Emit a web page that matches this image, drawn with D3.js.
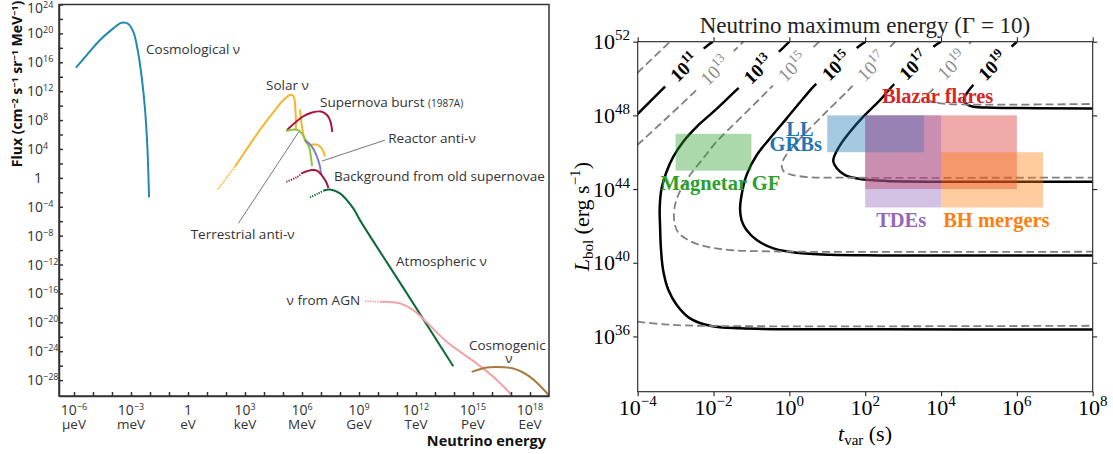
<!DOCTYPE html>
<html>
<head>
<meta charset="UTF-8">
<style>
  body { margin: 0; background: white; }
  .sans { font-family: "Open Sans", sans-serif; fill: #333; }
  .serif { font-family: "Liberation Serif", serif; }
</style>
</head>
<body>
<svg width="1113" height="454"></svg>
<script src="https://d3js.org/d3.v7.min.js"></script>
<script>

// ---------- left panel data: [log10 E (eV), log10 flux] ----------
const cosmological = [[-5.9,15.25],[-5.33,17.0],[-4.63,19.08],[-3.93,20.7],[-3.49,21.48],[-3.14,21.3],[-2.88,20.23],[-2.65,17.7],[-2.44,14.0],[-2.26,9.39],[-2.14,4.3],[-2.05,-2.7]];
const solarDots = [[1.58,-1.55],[2.47,1.53]];
const solarPP = [[2.47,1.53],[3.89,7.03],[4.58,9.39],[5.05,10.84],[5.37,11.47],[5.53,11.4],[5.61,10.77],[5.66,9.11],[5.68,7.45],[5.66,6.62]];
const solarB8 = [[5.89,9.46],[5.97,7.59],[6.08,5.93],[6.21,4.89],[6.42,4.61],[6.79,4.6],[7.03,4.13],[7.16,3.43],[7.21,2.95]];
const terrestrial = [[5.16,6.48],[5.56,6.69],[5.84,6.55],[6.03,6.0],[6.21,5.09],[6.39,4.13],[6.47,2.88],[6.53,1.63]];
const reactor = [[6.16,5.23],[6.53,4.3],[6.79,2.92],[6.95,1.53],[7.0,0.39]];
const snBurst = [[5.21,6.62],[6.03,8.46],[6.53,9.04],[7.0,9.18],[7.34,8.63],[7.5,7.77],[7.59,6.38]];
const oldSNDots = [[5.18,-0.54],[5.74,0.11],[6.0,0.66]];
const oldSN = [[6.0,0.66],[6.53,1.08],[6.79,1.01],[7.05,0.32],[7.26,-0.51],[7.39,-1.41]];
const atmDots = [[6.42,-2.7],[6.86,-2.15],[7.12,-1.79]];
const atmospheric = [[7.12,-1.79],[7.47,-1.6],[8.0,-2.15],[8.7,-4.23],[9.05,-5.85],[11.51,-15.96],[13.96,-26.07]];
const agnDots = [[9.32,-17.07],[10.1,-17.16]];
const agn = [[10.1,-17.16],[10.46,-17.16],[11.16,-17.38],[11.86,-18.31],[12.56,-19.98],[13.62,-22.7],[15.19,-25.7],[16.07,-27.55],[17.04,-30.09]];
const cosmogenic = [[14.93,-26.86],[15.72,-26.25],[16.16,-26.17],[17.12,-26.39],[18.0,-27.55],[19.0,-30.1]];
const leaderTerr = [[2.65,-6.3],[5.83,6.38]];
const leaderReac = [[7.05,2.32],[10.37,5.23]];

const energyTicks = [-6, -3, 0, 3, 6, 9, 12, 15, 18];
const energyUnits = ["μeV", "meV", "eV", "keV", "MeV", "GeV", "TeV", "PeV", "EeV"];
const fluxTicks = [24, 20, 16, 12, 8, 4, 0, -4, -8, -12, -16, -20, -24, -28];

const leftLabels = [
  ["Cosmological ν", -2.21, 17.14],
  ["Solar ν", 4.11, 12.16],
  ["Reactor anti-ν", 10.54, 4.82],
  ["Background from old supernovae", 7.68, -0.45],
  ["Terrestrial anti-ν", 0.14, -8.48],
  ["Atmospheric ν", 10.95, -12.22],
  ["ν from AGN", 5.19, -17.62],
  ["Cosmogenic", 14.79, -23.85]
];

// ---------- right panel data: [log10 t_var (s), log10 L_bol] ----------
const solid11 = [[-4.01,48.06],[-3.28,49.56],[-2.25,51.64],[-2.02,52.0]];
const solid13 = [[0.0,52.0],[-0.2,51.6],[-1.3,49.56],[-2.0,48.2],[-2.44,47.39],[-2.8,46.57],[-3.06,45.76],[-3.24,44.94],[-3.37,44.04],[-3.42,42.96],[-3.41,42.0],[-3.39,40.87],[-3.33,39.61],[-3.19,38.52],[-2.97,37.71],[-2.62,36.98],[-2.09,36.58],[-1.3,36.44],[2.39,36.39],[8.0,36.38]];
const solid15 = [[2.01,52.0],[1.82,51.73],[0.68,49.65],[0.37,48.93],[-0.07,47.84],[-0.51,46.76],[-0.86,45.85],[-1.13,44.76],[-1.26,43.68],[-1.3,42.9],[-1.26,42.3],[-1.13,41.78],[-0.86,41.23],[-0.42,40.78],[0.19,40.54],[1.07,40.43],[2.39,40.4],[8.0,40.4]];
const solid17 = [[4.0,52.0],[3.8,51.73],[2.76,49.69],[2.39,48.83],[1.95,47.93],[1.6,47.11],[1.34,46.39],[1.18,45.76],[1.16,45.49],[1.25,45.13],[1.47,44.76],[1.86,44.55],[2.57,44.44],[4.32,44.4],[8.0,44.4]];
const solid19 = [[6.0,52.0],[5.86,51.73],[4.85,49.65],[4.68,49.2],[4.6,48.83],[4.68,48.6],[4.85,48.47],[5.38,48.42],[8.0,48.38]];
const gray11 = [[-4.01,50.3],[-3.15,52.0]];
const gray13 = [[-4.01,46.39],[-2.36,49.56],[-1.57,51.28],[-1.21,52.0]];
const gray13low = [[-4.01,36.8],[-3.32,36.66],[-2.44,36.58],[8.0,36.58]];
const gray15 = [[0.79,52.0],[-0.42,49.65],[-0.86,48.74],[-1.39,47.66],[-1.92,46.57],[-2.27,45.67],[-2.62,44.76],[-2.89,43.86],[-3.02,43.08],[-3.04,42.32],[-2.94,41.67],[-2.62,41.18],[-2.18,40.87],[-1.57,40.69],[-0.25,40.61],[8.0,40.6]];
const gray17 = [[2.79,52.0],[1.69,49.65],[1.34,48.93],[0.98,48.2],[0.85,47.93],[0.37,46.93],[0.02,46.12],[-0.16,45.58],[-0.2,45.21],[-0.14,44.94],[0.1,44.76],[0.54,44.64],[1.07,44.62],[8.0,44.62]];
const gray19 = [[4.79,52.0],[3.89,49.65],[3.62,49.0],[3.68,48.83],[3.8,48.72],[4.15,48.62],[8.0,48.62]];

const boxNames = ["Magnetar GF", "Blazar flares", "LL GRBs", "TDEs", "BH mergers"];
const boxT = [[-3, -1], [2, 6], [1, 3.55], [2, 4], [4, 6.69]];
const boxL = [[45, 47], [44, 48], [46, 48], [43, 48], [43, 46]];
const boxColors = ["#2ca02c", "#d62728", "#1f77b4", "#9467bd", "#ff7f0e"];

const tTicks = [-4, -2, 0, 2, 4, 6, 8];
const lTicks = [36, 40, 44, 48, 52];

const svg = d3.select("svg");
const defs = svg.append("defs");
const line = d3.line().curve(d3.curveCatmullRom.alpha(0.5));

// ================= left panel =================
const xL = d3.scaleLog().domain([10 ** -6.79, 1e19]).range([59, 549]);
const yL = d3.scaleLog().domain([10 ** -30.2, 1e24]).range([396, 4.5]);
const pL = d => [xL(10 ** d[0]), yL(10 ** d[1])];
const left = svg.append("g");

const spectra = [
  [cosmological, "#1f8aad", false],
  [solarDots, "#f6b52c", true],
  [solarPP, "#f6b52c", false],
  [solarB8, "#f6b52c", false],
  [snBurst, "#a8143f", false],
  [terrestrial, "#8cc63f", false],
  [reactor, "#7b80c4", false],
  [oldSNDots, "#a8143f", true],
  [oldSN, "#a8143f", false],
  [atmDots, "#0f6b37", true],
  [atmospheric, "#0f6b37", false],
  [agnDots, "#f2a1a7", true],
  [agn, "#f2a1a7", false],
  [cosmogenic, "#a87b3e", false]
];

spectra.forEach(s => {
  left.append("path")
    .attr("d", line(s[0].map(pL)))
    .attr("fill", "none")
    .attr("stroke", s[1])
    .attr("stroke-width", 2)
    .attr("stroke-dasharray", s[2] ? "1.2,1.2" : null);
});

[leaderTerr, leaderReac].forEach(l => {
  left.append("path")
    .attr("d", d3.line()(l.map(pL)))
    .attr("stroke", "#555")
    .attr("stroke-width", 0.8);
});

// axes (ticks point inwards)
left.append("g")
  .attr("transform", `translate(0,${yL.range()[0]})`)
  .call(d3.axisBottom(xL).tickValues(d3.range(-6, 19).map(e => 10 ** e)).tickSize(-4).tickSizeOuter(0).tickFormat(""));
left.append("g")
  .attr("transform", `translate(${xL.range()[0]},0)`)
  .call(d3.axisLeft(yL).tickValues(d3.range(-28, 25, 2).map(e => 10 ** e)).tickSize(-4).tickSizeOuter(0).tickFormat(""));
left.selectAll("g.tick line, path.domain").attr("stroke", "#333").attr("stroke-width", 1.5);

left.append("rect")
  .attr("x", xL.range()[0]).attr("y", yL.range()[1])
  .attr("width", xL.range()[1] - xL.range()[0])
  .attr("height", yL.range()[0] - yL.range()[1])
  .attr("fill", "none").attr("stroke", "#333").attr("stroke-width", 1.5);

energyTicks.forEach((e, i) => {
  const x = xL(10 ** e);
  const t = left.append("text").attr("class", "sans").attr("x", x).attr("y", 415)
    .attr("text-anchor", "middle").attr("font-size", 14);
  if (e === 0) t.text("1");
  else {
    t.append("tspan").text("10");
    t.append("tspan").attr("dy", -5).attr("font-size", 9).text(e < 0 ? "−" + (-e) : e);
  }
  left.append("text").attr("class", "sans").attr("x", x).attr("y", 429)
    .attr("text-anchor", "middle").attr("font-size", 13.5).text(energyUnits[i]);
});

fluxTicks.forEach(e => {
  const y = yL(10 ** e) + 5;
  if (e === 0) {
    left.append("text").attr("class", "sans").attr("x", 38).attr("y", y)
      .attr("text-anchor", "middle").attr("font-size", 14).text("1");
  } else {
    const t = left.append("text").attr("class", "sans").attr("x", 27)
      .attr("y", e === 24 ? 13 : y).attr("font-size", 14);
    t.append("tspan").text("10");
    t.append("tspan").attr("dy", -5).attr("font-size", 9).text(e < 0 ? "−" + (-e) : e);
  }
});

leftLabels.forEach(l => {
  const [x, y] = pL([l[1], l[2]]);
  left.append("text").attr("class", "sans").attr("x", x).attr("y", y)
    .attr("font-size", 13.5).text(l[0]);
});
{
  const [x, y] = pL([6.95, 9.8]);
  const t = left.append("text").attr("class", "sans").attr("x", x).attr("y", y).attr("font-size", 13.5);
  t.append("tspan").text("Supernova burst ");
  t.append("tspan").attr("font-size", 10).text("(1987A)");
  const [nx, ny] = pL([16.89, -25.6]);
  left.append("text").attr("class", "sans").attr("x", nx).attr("y", ny)
    .attr("text-anchor", "middle").attr("font-size", 13.5).text("ν");
}

const ylab = left.append("text").attr("class", "sans")
  .attr("transform", "translate(22,84) rotate(-90)")
  .attr("text-anchor", "middle").attr("font-size", 14).attr("font-weight", "bold").style("fill", "#111");
[["Flux (cm", null], ["−2", "sup"], [" s", null], ["−1", "sup"], [" sr", null], ["−1", "sup"], [" MeV", null], ["−1", "sup"], [")", null]]
  .forEach(p => {
    ylab.append("tspan").text(p[0])
      .attr("font-size", p[1] ? 9 : null)
      .attr("baseline-shift", p[1] ? "45%" : null);
  });

left.append("text").attr("class", "sans").attr("x", 546).attr("y", 446)
  .attr("text-anchor", "end").attr("font-size", 14.5).attr("font-weight", "bold")
  .style("fill", "#111").text("Neutrino energy");

// ================= right panel =================
const xR = d3.scaleLog().domain([1e-4, 1e8]).range([637.7, 1092.7]);
const yR = d3.scaleLog().domain([1e33, 1e52]).range([391.7, 41.7]);
const pR = d => [xR(10 ** d[0]), yR(10 ** d[1])];
const right = svg.append("g").attr("class", "serif");

defs.append("clipPath").attr("id", "clipR").append("rect")
  .attr("x", 637.7).attr("y", 41.7).attr("width", 455).attr("height", 350);

const ang = Math.atan2(yR(1e50) - yR(1e48), xR(10) - xR(1)) * 180 / Math.PI;

const contours = [
  [solid11, true, 11, [-2.77, 50.6]],
  [solid13, true, 13, [-0.82, 50.5]],
  [solid15, true, 15, [1.24, 50.69]],
  [solid17, true, 17, [3.28, 50.71]],
  [solid19, true, 19, [5.36, 50.69]],
  [gray11, false, 11, null],
  [gray13, false, 13, [-1.96, 50.42]],
  [gray13low, false, 13, null],
  [gray15, false, 15, [0.08, 50.62]],
  [gray17, false, 17, [2.17, 50.65]],
  [gray19, false, 19, [4.29, 50.73]]
];

const plot = right.append("g").attr("clip-path", "url(#clipR)");

contours.forEach((c, i) => {
  const path = plot.append("path")
    .attr("d", line(c[0].map(pR)))
    .attr("fill", "none")
    .attr("stroke", c[1] ? "#000" : "#808080")
    .attr("stroke-width", c[1] ? 2.5 : 1.8)
    .attr("stroke-dasharray", c[1] ? null : "8,4");
  if (c[3]) {
    const [lx, ly] = pR(c[3]);
    const m = defs.append("mask").attr("id", "gap" + i)
      .attr("maskUnits", "userSpaceOnUse")
      .attr("x", 0).attr("y", 0).attr("width", 1113).attr("height", 454);
    m.append("rect").attr("width", 1113).attr("height", 454).attr("fill", "white");
    m.append("rect").attr("x", -27).attr("y", -10).attr("width", 54).attr("height", 20)
      .attr("fill", "black").attr("transform", `translate(${lx},${ly}) rotate(${ang})`);
    path.attr("mask", `url(#gap${i})`);
  }
});

// source boxes
boxNames.forEach((n, i) => {
  plot.append("rect")
    .attr("x", xR(10 ** boxT[i][0]))
    .attr("y", yR(10 ** boxL[i][1]))
    .attr("width", xR(10 ** boxT[i][1]) - xR(10 ** boxT[i][0]))
    .attr("height", yR(10 ** boxL[i][0]) - yR(10 ** boxL[i][1]))
    .attr("fill", boxColors[i]).attr("fill-opacity", 0.4);
});

// contour labels
contours.forEach(c => {
  if (!c[3]) return;
  const [lx, ly] = pR(c[3]);
  const t = right.append("text")
    .attr("transform", `translate(${lx},${ly}) rotate(${ang})`)
    .attr("text-anchor", "middle").attr("y", 6.5)
    .attr("font-size", 19)
    .attr("font-weight", c[1] ? "bold" : "normal")
    .attr("fill", c[1] ? "#000" : "#8c8c8c");
  t.append("tspan").text("10");
  t.append("tspan").attr("dy", -8).attr("font-size", 13).text(c[2]);
});

// box labels: [text, log t centre, log L baseline]
const boxLabels = [
  ["Magnetar GF", -1.82, 43.95, "#2ca02c"],
  ["LL", 0.28, 46.86, "#1f77b4"],
  ["GRBs", 0.17, 46.06, "#1f77b4"],
  ["Blazar flares", 3.91, 48.67, "#d62728"],
  ["TDEs", 2.95, 41.96, "#9467bd"],
  ["BH mergers", 5.46, 41.96, "#ff7f0e"]
];
boxLabels.forEach(b => {
  const [x, y] = pR([b[1], b[2]]);
  right.append("text").attr("x", x).attr("y", y)
    .attr("text-anchor", "middle").attr("font-size", 20.5).attr("font-weight", "bold")
    .attr("fill", b[3]).text(b[0]);
});

// axes, ticks outward on all four sides
const tv = tTicks.map(e => 10 ** e), lv = lTicks.map(e => 10 ** e);
right.append("g").attr("transform", "translate(0,391.7)")
  .call(d3.axisBottom(xR).tickValues(tv).tickSize(4.5).tickFormat(""));
right.append("g").attr("transform", "translate(0,41.7)")
  .call(d3.axisTop(xR).tickValues(tv).tickSize(4.5).tickFormat(""));
right.append("g").attr("transform", "translate(637.7,0)")
  .call(d3.axisLeft(yR).tickValues(lv).tickSize(4.5).tickFormat(""));
right.append("g").attr("transform", "translate(1092.7,0)")
  .call(d3.axisRight(yR).tickValues(lv).tickSize(4.5).tickFormat(""));
right.selectAll("path.domain").remove();
right.selectAll("g.tick line").attr("stroke", "#222").attr("stroke-width", 1.1);
right.append("rect").attr("x", 637.7).attr("y", 41.7).attr("width", 455).attr("height", 350)
  .attr("fill", "none").attr("stroke", "#222").attr("stroke-width", 1.1);

tTicks.forEach(e => {
  const t = right.append("text").attr("x", xR(10 ** e)).attr("y", 415)
    .attr("text-anchor", "middle").attr("font-size", 22);
  t.append("tspan").text("10");
  t.append("tspan").attr("dy", -9).attr("font-size", 15).text(e < 0 ? "−" + (-e) : e);
});
lTicks.forEach(e => {
  const t = right.append("text").attr("x", 630).attr("y", yR(10 ** e) + 7.5)
    .attr("text-anchor", "end").attr("font-size", 22);
  t.append("tspan").text("10");
  t.append("tspan").attr("dy", -9).attr("font-size", 15).text(e);
});

right.append("text").attr("x", 865).attr("y", 33).attr("text-anchor", "middle")
  .attr("font-size", 23).attr("fill", "#222").text("Neutrino maximum energy (Γ = 10)");

const xlab = right.append("text").attr("x", 865).attr("y", 441).attr("text-anchor", "middle").attr("font-size", 22);
xlab.append("tspan").attr("font-style", "italic").text("t");
xlab.append("tspan").attr("font-size", 15).attr("dy", 4).text("var");
xlab.append("tspan").attr("dy", -4).text(" (s)");

const ylabR = right.append("text").attr("transform", "translate(589,216.7) rotate(-90)")
  .attr("text-anchor", "middle").attr("font-size", 22);
ylabR.append("tspan").attr("font-style", "italic").text("L");
ylabR.append("tspan").attr("font-size", 15).attr("dy", 4).text("bol");
ylabR.append("tspan").attr("dy", -4).text(" (erg s");
ylabR.append("tspan").attr("font-size", 15).attr("dy", -9).text("−1");
ylabR.append("tspan").attr("dy", 9).text(")");

</script>
</body>
</html>
